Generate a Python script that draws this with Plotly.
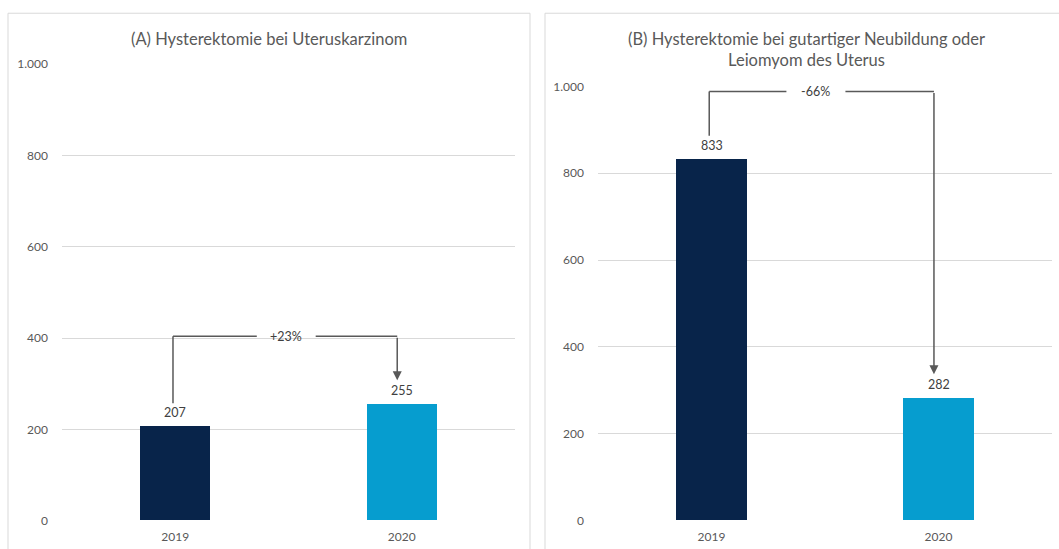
import plotly.graph_objects as go

W, H = 1059, 549

years = ["2019", "2020"]
values_a = [207, 255]
values_b = [833, 282]
change_a = "+23%"
change_b = "-66%"
title_a = "(A) Hysterektomie bei Uteruskarzinom"
title_b = "(B) Hysterektomie bei gutartiger Neubildung oder<br>Leiomyom des Uterus"
tick_vals = [0, 200, 400, 600, 800, 1000]
tick_text = ["0", "200", "400", "600", "800", "1.000"]
bar_colors = ["#08244A", "#069DCF"]
bracket_level = [404, 988]

FONT = "Lato"
GREY = "#595959"
GRID = "#D9D9D9"

# vertical compensation for the capture (page is photographed with an 8px pad, rescaled)
VS = (H + 16) / H

def px(x):
    return x / W

def ypage(y):
    return y * VS - 8

def py(y):
    return 1 - ypage(y) / H

# panel geometry (reference pixels)
panels = [
    dict(x0=62, x1=515, ytop=64, ybot=520, border=(8, 530)),
    dict(x0=598, x1=1052, ytop=86, ybot=520, border=(545, 1075)),
]

fig = go.Figure()
for i, (vals, p) in enumerate(zip([values_a, values_b], panels)):
    xa = "x" if i == 0 else "x2"
    ya = "y" if i == 0 else "y2"
    fig.add_trace(go.Bar(
        x=[0, 1], y=vals, width=0.31, marker=dict(color=bar_colors, line=dict(width=0)),
        xaxis=xa, yaxis=ya, showlegend=False, hoverinfo="skip",
    ))

axis_common = dict(zeroline=False, showline=False, ticks="",
                   tickfont=dict(family=FONT, size=12, color=GREY))
fig.update_layout(
    width=W, height=H, margin=dict(l=0, r=0, t=0, b=0),
    paper_bgcolor="white", plot_bgcolor="white", bargap=0,
    xaxis=dict(domain=[px(62), px(515)], range=[-0.5, 1.5], tickvals=[0, 1], ticktext=years,
               anchor="y", showgrid=False, ticklabelstandoff=7, **axis_common),
    yaxis=dict(domain=[py(520), py(64)], range=[0, 1000], tickvals=tick_vals, ticktext=tick_text,
               showgrid=True, gridcolor=GRID, gridwidth=1, ticklabelstandoff=13, anchor="x",
               **axis_common),
    xaxis2=dict(domain=[px(598), px(1052)], range=[-0.5, 1.5], tickvals=[0, 1], ticktext=years,
                anchor="y2", showgrid=False, ticklabelstandoff=7, **axis_common),
    yaxis2=dict(domain=[py(520), py(86)], range=[0, 1000], tickvals=tick_vals, ticktext=tick_text,
                showgrid=True, gridcolor=GRID, gridwidth=1, ticklabelstandoff=13, anchor="x2",
                **axis_common),
)

shapes = []
annotations = []
titles = [title_a, title_b]
changes = [change_a, change_b]
title_centers = [269, 806]
text_centers = [0.49, 0.46]
for i, (vals, p) in enumerate(zip([values_a, values_b], panels)):
    xr = "x" if i == 0 else "x2"
    yr = "y" if i == 0 else "y2"
    scale = (p["ybot"] - p["ytop"]) / 1000.0  # reference px per unit
    bx0, bx1 = p["border"]
    shapes.append(dict(type="rect", xref="paper", yref="paper", x0=px(bx0), x1=px(bx1),
                       y0=-0.05, y1=py(13), line=dict(color=GRID, width=1), layer="below"))
    annotations.append(dict(xref="paper", yref="paper", x=px(title_centers[i]),
                            y=py(27), yanchor="top", xanchor="center", showarrow=False,
                            text=titles[i], font=dict(family=FONT, size=16.5, color=GREY)))
    for j, v in enumerate(vals):
        annotations.append(dict(xref=xr, yref=yr, x=j, y=v, yanchor="bottom", yshift=4,
                                showarrow=False, text=str(v),
                                font=dict(family=FONT, size=12.5, color="#404040")))
    lvl = bracket_level[i]
    start = vals[0] + 23 / scale
    tip = vals[1] + 24 / scale
    xl, xrr = -0.01, 0.98
    tc = text_centers[i]
    gap = 0.13
    line = dict(color=GREY, width=1.5)
    shapes.append(dict(type="line", xref=xr, yref=yr, x0=xl, x1=xl, y0=start, y1=lvl, line=line))
    shapes.append(dict(type="line", xref=xr, yref=yr, x0=xl, x1=tc - gap, y0=lvl, y1=lvl, line=line))
    shapes.append(dict(type="line", xref=xr, yref=yr, x0=tc + gap, x1=xrr, y0=lvl, y1=lvl, line=line))
    annotations.append(dict(xref=xr, yref=yr, x=xrr, y=tip, ax=xrr, ay=lvl, axref=xr, ayref=yr,
                            showarrow=True, arrowhead=2, arrowsize=1.2, arrowwidth=1.5,
                            arrowcolor=GREY, text=""))
    annotations.append(dict(xref=xr, yref=yr, x=tc, y=lvl, showarrow=False, text=changes[i],
                            font=dict(family=FONT, size=12.5, color="#404040")))

fig.update_layout(shapes=shapes, annotations=annotations)
post = (
    "document.documentElement.style.margin='0';"
    "document.documentElement.style.overflow='hidden';"
    "document.body.style.margin='0';document.body.style.padding='0';"
    "document.body.style.overflow='hidden';document.body.style.height='549px';"
    "var d=document.getElementsByClassName('plotly-graph-div')[0];"
    "d.style.position='fixed';d.style.top='0px';d.style.left='0px';"
)
fig.write_html("out.html", config={"displayModeBar": False}, post_script=post)
